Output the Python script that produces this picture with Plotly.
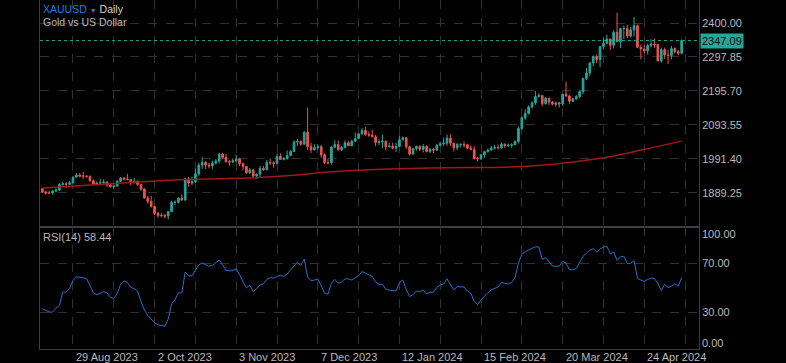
import pandas as pd
import plotly.graph_objects as go

# ---------------- data ----------------
holidays = ["2023-12-25", "2024-01-01", "2024-03-29"]
dates = [d.strftime("%Y-%m-%d") for d in pd.bdate_range("2023-08-16", "2024-05-09")
         if d.strftime("%Y-%m-%d") not in holidays]

opens = [1902, 1892, 1889, 1889, 1895, 1898, 1915, 1917, 1915, 1920,
         1937, 1943, 1940, 1940, 1939, 1926, 1916, 1919, 1919, 1922,
         1913, 1908, 1910, 1924, 1934, 1931, 1930, 1920, 1925, 1915,
         1901, 1874, 1864, 1849, 1828, 1822, 1821, 1820, 1833, 1861,
         1861, 1874, 1868, 1932, 1919, 1923, 1947, 1973, 1981, 1973,
         1971, 1979, 1985, 2006, 1996, 1983, 1982, 1986, 1992, 1978,
         1969, 1950, 1958, 1940, 1946, 1963, 1959, 1981, 1980, 1978,
         1999, 1990, 1992, 2002, 2014, 2042, 2044, 2036, 2072, 2029,
         2019, 2025, 2028, 2004, 1981, 1980, 2027, 2035, 2019, 2026,
         2040, 2031, 2045, 2053, 2067, 2077, 2065, 2063, 2058, 2041,
         2043, 2045, 2028, 2030, 2024, 2029, 2049, 2055, 2028, 2006,
         2023, 2029, 2021, 2029, 2014, 2021, 2018, 2033, 2037, 2039,
         2054, 2039, 2025, 2035, 2035, 2034, 2024, 2020, 1993, 1992,
         2004, 2013, 2018, 2024, 2026, 2025, 2036, 2031, 2033, 2034,
         2044, 2083, 2115, 2128, 2148, 2160, 2179, 2182, 2158, 2174,
         2162, 2155, 2160, 2157, 2186, 2181, 2165, 2172, 2179, 2194,
         2233, 2250, 2280, 2300, 2290, 2329, 2339, 2352, 2333, 2372,
         2344, 2383, 2383, 2361, 2379, 2392, 2327, 2322, 2316, 2332,
         2337, 2335, 2286, 2320, 2304, 2302, 2323, 2314, 2309]
highs = [1904, 1896, 1896, 1897, 1903, 1919, 1923, 1922, 1925, 1938,
         1949, 1949, 1953, 1943, 1942, 1930, 1924, 1932, 1930, 1925,
         1917, 1913, 1928, 1937, 1937, 1947, 1932, 1935, 1927, 1915,
         1903, 1880, 1880, 1850, 1832, 1829, 1826, 1834, 1865, 1867,
         1876, 1885, 1933, 1937, 1938, 1963, 1980, 1997, 1985, 1979,
         1986, 1991, 2009, 2010, 2007, 1989, 1993, 2004, 1993, 1980,
         1971, 1965, 1962, 1947, 1971, 1970, 1988, 1993, 1984, 2007,
         2008, 1997, 2017, 2018, 2048, 2052, 2048, 2075, 2146, 2040,
         2036, 2035, 2034, 2008, 1992, 2030, 2048, 2047, 2030, 2047,
         2045, 2049, 2071, 2069, 2084, 2088, 2074, 2079, 2064, 2050,
         2064, 2046, 2040, 2040, 2040, 2062, 2059, 2057, 2031, 2023,
         2032, 2033, 2036, 2032, 2023, 2025, 2036, 2043, 2056, 2065,
         2066, 2040, 2040, 2039, 2044, 2037, 2032, 2030, 1997, 2006,
         2016, 2023, 2031, 2033, 2035, 2041, 2038, 2038, 2039, 2047,
         2088, 2119, 2141, 2152, 2165, 2195, 2189, 2184, 2177, 2175,
         2166, 2164, 2163, 2187, 2223, 2183, 2176, 2184, 2197, 2236,
         2265, 2282, 2302, 2305, 2330, 2354, 2365, 2353, 2378, 2431,
         2385, 2392, 2395, 2388, 2418, 2395, 2335, 2334, 2338, 2352,
         2353, 2336, 2326, 2326, 2320, 2331, 2327, 2319, 2351]
lows = [1891, 1885, 1886, 1884, 1892, 1896, 1911, 1904, 1912, 1917,
        1935, 1936, 1931, 1935, 1923, 1915, 1913, 1914, 1918, 1908,
        1905, 1901, 1909, 1922, 1927, 1927, 1913, 1918, 1911, 1896,
        1873, 1857, 1846, 1823, 1815, 1816, 1813, 1810, 1832, 1853,
        1858, 1866, 1866, 1908, 1913, 1921, 1941, 1962, 1961, 1963,
        1962, 1975, 1978, 1992, 1981, 1971, 1980, 1981, 1970, 1957,
        1946, 1946, 1935, 1932, 1937, 1956, 1957, 1973, 1965, 1975,
        1989, 1987, 1990, 2000, 2013, 2031, 2031, 2034, 2018, 2009,
        2017, 2020, 1995, 1976, 1975, 1974, 2025, 2016, 2015, 2024,
        2031, 2030, 2043, 2052, 2064, 2061, 2058, 2057, 2030, 2033,
        2024, 2017, 2025, 2021, 2013, 2028, 2048, 2022, 2002, 2005,
        2017, 2015, 2011, 2011, 2009, 2009, 2016, 2029, 2031, 2031,
        2030, 2014, 2018, 2026, 2026, 2020, 2017, 1990, 1984, 1988,
        1995, 2012, 2016, 2020, 2020, 2022, 2025, 2027, 2025, 2033,
        2038, 2079, 2109, 2125, 2143, 2154, 2176, 2150, 2155, 2154,
        2152, 2148, 2146, 2151, 2178, 2156, 2162, 2169, 2174, 2186,
        2228, 2240, 2270, 2279, 2267, 2321, 2337, 2319, 2324, 2342,
        2325, 2352, 2355, 2357, 2359, 2325, 2291, 2308, 2305, 2327,
        2325, 2285, 2281, 2292, 2277, 2291, 2308, 2303, 2306]
closes = [1892, 1889, 1889, 1895, 1898, 1915, 1917, 1915, 1920, 1937,
          1943, 1940, 1940, 1939, 1926, 1916, 1919, 1919, 1922, 1913,
          1908, 1910, 1924, 1934, 1931, 1930, 1920, 1925, 1915, 1901,
          1874, 1864, 1849, 1828, 1822, 1821, 1820, 1833, 1861, 1861,
          1874, 1868, 1932, 1919, 1923, 1947, 1973, 1981, 1973, 1971,
          1979, 1985, 2006, 1996, 1983, 1982, 1986, 1992, 1978, 1969,
          1950, 1958, 1940, 1946, 1963, 1959, 1981, 1980, 1978, 1999,
          1990, 1992, 2002, 2014, 2042, 2044, 2036, 2072, 2029, 2019,
          2025, 2028, 2004, 1981, 1980, 2027, 2035, 2019, 2026, 2040,
          2031, 2045, 2053, 2067, 2077, 2065, 2063, 2058, 2041, 2043,
          2045, 2028, 2030, 2024, 2029, 2049, 2055, 2028, 2006, 2023,
          2029, 2021, 2029, 2014, 2021, 2018, 2033, 2037, 2039, 2054,
          2039, 2025, 2035, 2035, 2034, 2024, 2020, 1993, 1992, 2004,
          2013, 2018, 2024, 2026, 2025, 2036, 2031, 2033, 2034, 2044,
          2083, 2115, 2128, 2148, 2160, 2179, 2182, 2158, 2174, 2162,
          2156, 2160, 2157, 2186, 2181, 2165, 2172, 2179, 2194, 2233,
          2250, 2280, 2300, 2290, 2329, 2339, 2352, 2333, 2372, 2344,
          2383, 2384, 2361, 2379, 2392, 2327, 2322, 2316, 2332, 2337,
          2335, 2286, 2320, 2304, 2302, 2323, 2314, 2309, 2347.09]

# 200-period moving average read at every 12th bar (plus last bar)
ma_dates = ["2023-08-16", "2023-09-01", "2023-09-19", "2023-10-05", "2023-10-23",
            "2023-11-08", "2023-11-24", "2023-12-12", "2023-12-29", "2024-01-17",
            "2024-02-02", "2024-02-20", "2024-03-07", "2024-03-25", "2024-04-11",
            "2024-04-29", "2024-05-09"]
ma_values = [1904, 1912, 1919, 1927, 1931, 1934, 1941, 1952, 1959, 1963,
             1965, 1966, 1970, 1982, 2000, 2027, 2045]

rsi = [33.0, 31.5, 30.3, 30.2, 33.5, 35.5, 46.7, 46.7, 49.5, 56.3,
       59.0, 58.8, 58.5, 57.7, 52.0, 46.0, 44.5, 45.5, 47.0, 46.0,
       42.3, 41.5, 45.4, 53.0, 55.8, 54.5, 50.5, 49.5, 47.5, 39.0,
       32.0, 27.5, 24.5, 21.5, 19.8, 19.3, 18.7, 24.5, 37.0, 40.5,
       46.0, 46.0, 63.0, 60.0, 60.0, 64.5, 69.0, 70.5, 69.0, 67.8,
       68.5, 70.5, 73.0, 69.0, 64.5, 64.0, 64.3, 65.5, 61.0, 55.0,
       50.0, 52.2, 47.0, 49.5, 52.5, 53.5, 57.0, 58.5, 58.0, 59.5,
       60.5, 59.5, 61.5, 65.0, 68.0, 71.0, 68.5, 73.8, 59.0, 56.0,
       56.5, 57.5, 52.0, 45.5, 45.0, 54.0, 57.0, 54.0, 55.0, 57.5,
       57.5, 56.5, 58.5, 60.0, 63.5, 62.0, 60.5, 59.5, 55.0, 53.0,
       53.0, 49.0, 48.2, 47.8, 47.5, 54.5, 56.5, 49.0, 43.0, 44.5,
       47.5, 47.0, 48.5, 45.0, 46.5, 46.5, 50.5, 52.5, 53.2, 57.5,
       53.0, 48.5, 51.2, 51.0, 50.8, 47.5, 45.8, 39.0, 36.3, 40.5,
       43.5, 46.0, 48.5, 49.8, 50.8, 54.5, 54.0, 53.3, 54.5, 58.5,
       70.5, 77.5, 79.8, 81.0, 82.5, 83.8, 83.5, 73.5, 74.9, 71.0,
       68.0, 67.8, 67.8, 72.0, 70.5, 65.0, 65.0, 66.0, 71.0, 76.0,
       78.5, 81.0, 82.3, 79.5, 82.0, 83.5, 84.2, 78.0, 79.5, 72.7,
       75.5, 76.0, 70.0, 70.3, 72.5, 58.0, 56.5, 55.5, 57.0, 58.2,
       57.7, 54.0, 48.0, 53.0, 50.3, 51.5, 53.5, 51.5, 58.44]

label_dates = ["2023-08-29", "2023-10-02", "2023-11-03", "2023-12-07",
               "2024-01-12", "2024-02-15", "2024-03-20", "2024-04-24"]
label_texts = ["29 Aug 2023", "2 Oct 2023", "3 Nov 2023", "7 Dec 2023",
               "12 Jan 2024", "15 Feb 2024", "20 Mar 2024", "24 Apr 2024"]
price_ticks = [1889.25, 1991.40, 2093.55, 2195.70, 2297.85, 2400.00]
rsi_ticks = [30, 70]
last_price = 2347.09
last_rsi = 58.44

# ---------------- build ----------------
xi = list(range(len(dates)))
pos = {d: i for i, d in enumerate(dates)}
label_idx = [pos[d] for d in label_dates]
grid_idx = sorted(set(label_idx + [i + 12 for i in label_idx]))
ma_x = [pos[d] for d in ma_dates]

UP, DOWN = "#26a69a", "#ef5350"
GRID = "#303030"
BORDER = "#3d3d3d"
TXT = "#b9b9b9"
FONT = "Liberation Sans, Arial, sans-serif"

fig = go.Figure()
fig.add_trace(go.Candlestick(
    x=xi, open=opens, high=highs, low=lows, close=closes,
    increasing=dict(line=dict(color=UP, width=1), fillcolor=UP),
    decreasing=dict(line=dict(color=DOWN, width=1), fillcolor=DOWN),
    whiskerwidth=0, xaxis="x", yaxis="y", showlegend=False, hoverinfo="skip"))
fig.add_trace(go.Scatter(x=ma_x, y=ma_values, mode="lines",
                         line=dict(color="#a3161a", width=1.5, shape="spline", smoothing=0.6),
                         xaxis="x", yaxis="y", showlegend=False, hoverinfo="skip"))
fig.add_trace(go.Scatter(x=xi, y=rsi, mode="lines",
                         line=dict(color="#2a6fc9", width=1),
                         xaxis="x2", yaxis="y2", showlegend=False, hoverinfo="skip"))

split = (349 - 227) / 349
xcommon = dict(range=[-0.7, 193.1], tickvals=grid_idx, showticklabels=False,
               showgrid=True, gridcolor=GRID, griddash="dash", gridwidth=1,
               showline=True, mirror=True, linecolor=BORDER, linewidth=1,
               zeroline=False, ticks="", fixedrange=True)
ycommon = dict(side="right", showgrid=True, gridcolor=GRID, griddash="dash",
               showline=True, mirror=True, linecolor=BORDER, linewidth=1,
               zeroline=False, ticks="", tickfont=dict(color=TXT, size=11, family=FONT))

fig.update_layout(
    width=786, height=363,
    margin=dict(l=40, r=87, t=0, b=14),
    paper_bgcolor="#000000", plot_bgcolor="#000000",
    font=dict(family=FONT, color=TXT, size=11),
    xaxis=dict(domain=[0, 1], anchor="y", rangeslider=dict(visible=False), **xcommon),
    xaxis2=dict(domain=[0, 1], anchor="y2", matches="x", **xcommon),
    yaxis=dict(domain=[split, 1], anchor="x", range=[1787.0, 2469.1],
               tickvals=price_ticks, ticktext=[f"{v:.2f}" for v in price_ticks], **ycommon),
    yaxis2=dict(domain=[0, split], anchor="x2", range=[0, 100],
                tickvals=rsi_ticks, ticktext=[f"{v:.2f}" for v in rsi_ticks], **ycommon),
)

# last-price dotted line and label
fig.add_shape(type="line", xref="x domain", yref="y", x0=0, x1=1,
              y0=last_price, y1=last_price, line=dict(color=UP, width=1, dash="dot"))
fig.add_annotation(xref="paper", yref="y", x=1, y=last_price, xanchor="left", yanchor="middle",
                   text=f"{last_price:.2f}", showarrow=False, bgcolor=UP, borderpad=1,
                   font=dict(color="#0a0a0a", size=11, family=FONT), xshift=1)

# RSI 100 / 0 labels (kept inside the pane)
fig.add_annotation(xref="paper", yref="y2 domain", x=1, y=1, xanchor="left", yanchor="top",
                   text="100.00", showarrow=False, font=dict(color=TXT, size=11, family=FONT),
                   xshift=1, yshift=1)
fig.add_annotation(xref="paper", yref="y2 domain", x=1, y=0, xanchor="left", yanchor="bottom",
                   text="0.00", showarrow=False, font=dict(color=TXT, size=11, family=FONT),
                   xshift=1, yshift=-2)

# date labels, left-aligned at gridlines
for i, t in zip(label_idx, label_texts):
    fig.add_annotation(xref="x2", yref="paper", x=i, y=0, xanchor="left", yanchor="top",
                       text=t, showarrow=False, font=dict(color=TXT, size=11, family=FONT),
                       xshift=1)

# header texts
fig.add_annotation(xref="paper", yref="paper", x=0, y=1, xanchor="left", yanchor="top",
                   text='<span style="color:#2679e4">XAUUSD</span> '
                        '<span style="color:#2679e4;font-size:7px">▼</span> '
                        '<span style="color:#d6d6d6">Daily</span>',
                   showarrow=False, font=dict(size=10.5, family=FONT), xshift=1, yshift=-1)
fig.add_annotation(xref="paper", yref="paper", x=0, y=1, xanchor="left", yanchor="top",
                   text="Gold vs US Dollar", showarrow=False,
                   font=dict(size=10.5, family=FONT, color="#bdbdbd"), xshift=1, yshift=-14)
fig.add_annotation(xref="paper", yref="y2 domain", x=0, y=1, xanchor="left", yanchor="top",
                   text=f"RSI(14) {last_rsi:.2f}", showarrow=False,
                   font=dict(size=11, family=FONT, color=TXT), xshift=1, yshift=-2)

fig.write_html("out.html", config={"displayModeBar": False},
               post_script="document.body.style.margin='0';document.body.style.background='#000';")
